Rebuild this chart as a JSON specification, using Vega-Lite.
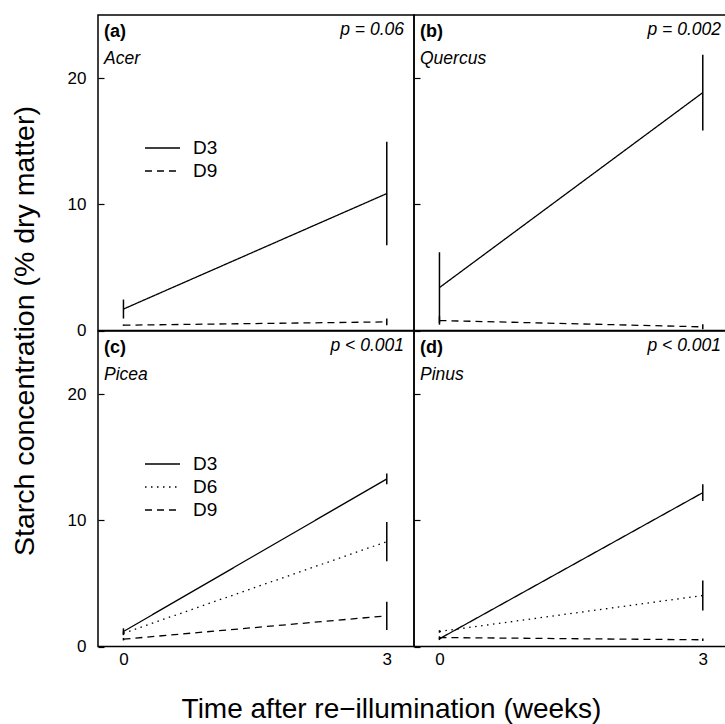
{
  "$schema": "https://vega.github.io/schema/vega-lite/v6.json",
  "padding": {"left": 9, "top": 14, "right": 0, "bottom": 0},
  "background": "white",
  "datasets": {
    "obs": [
      {"panel": "a", "series": "D3", "week": 0, "mean": 1.7, "se": 0.75},
      {"panel": "a", "series": "D3", "week": 3, "mean": 10.85, "se": 4.1},
      {"panel": "a", "series": "D9", "week": 0, "mean": 0.42, "se": 0.05},
      {"panel": "a", "series": "D9", "week": 3, "mean": 0.68, "se": 0.27},
      {"panel": "b", "series": "D3", "week": 0, "mean": 3.4, "se": 2.8},
      {"panel": "b", "series": "D3", "week": 3, "mean": 18.85, "se": 3.0},
      {"panel": "b", "series": "D9", "week": 0, "mean": 0.79, "se": 0.33},
      {"panel": "b", "series": "D9", "week": 3, "mean": 0.29, "se": 0.2},
      {"panel": "c", "series": "D3", "week": 0, "mean": 1.19, "se": 0.25},
      {"panel": "c", "series": "D3", "week": 3, "mean": 13.28, "se": 0.42},
      {"panel": "c", "series": "D6", "week": 0, "mean": 1.05, "se": 0.15},
      {"panel": "c", "series": "D6", "week": 3, "mean": 8.31, "se": 1.55},
      {"panel": "c", "series": "D9", "week": 0, "mean": 0.58, "se": 0.1},
      {"panel": "c", "series": "D9", "week": 3, "mean": 2.43, "se": 1.12},
      {"panel": "d", "series": "D3", "week": 0, "mean": 0.61, "se": 0.1},
      {"panel": "d", "series": "D3", "week": 3, "mean": 12.19, "se": 0.66},
      {"panel": "d", "series": "D6", "week": 0, "mean": 1.19, "se": 0.1},
      {"panel": "d", "series": "D6", "week": 3, "mean": 4.04, "se": 1.19},
      {"panel": "d", "series": "D9", "week": 0, "mean": 0.71, "se": 0.1},
      {"panel": "d", "series": "D9", "week": 3, "mean": 0.53, "se": 0.1}
    ],
    "ann": [
      {"panel": "a", "p": "p = 0.06"},
      {"panel": "b", "p": "p = 0.002"},
      {"panel": "c", "p": "p < 0.001"},
      {"panel": "d", "p": "p < 0.001"}
    ]
  },
  "columns": 2,
  "spacing": 0,
  "bounds": "flush",
  "resolve": {"scale": {"strokeDash": "independent"}, "legend": {"strokeDash": "independent"}},
  "concat": [
    {
      "width": 316, "height": 315.5,
      "title": {"text": "(a)", "subtitle": "Acer", "orient": "top", "anchor": "start", "frame": "group", "offset": -52.5, "dx": 6, "fontSize": 18, "fontWeight": "bold", "color": "black", "subtitleFontSize": 17.5, "subtitleFontStyle": "italic", "subtitleColor": "black", "subtitlePadding": 9},
      "layer": [
        {"data": {"name": "obs"}, "transform": [{"filter": "datum.panel === 'a'"}],
         "mark": {"type": "line", "color": "black", "strokeWidth": 1.3},
         "encoding": {
           "x": {"field": "week", "type": "quantitative", "title": null, "scale": {"domain": [-0.29, 3.31], "nice": false, "zero": false}, "axis": null},
           "y": {"field": "mean", "type": "quantitative", "scale": {"domain": [0, 25], "nice": false, "zero": false}, "axis": {"title": "Starch concentration (% dry matter)", "values": [0, 10, 20], "tickSize": -6, "tickColor": "black", "tickWidth": 1.2, "domain": false, "grid": false, "labelFontSize": 17, "labelColor": "black", "labelPadding": 18, "titleFontSize": 28.5, "titleFontWeight": "normal", "titleColor": "black", "titleX": -65, "titleY": 315.5, "titleAngle": 270, "titleAlign": "center", "titleBaseline": "alphabetic"}},
           "strokeDash": {"field": "series", "type": "nominal", "scale": {"domain": ["D3", "D9"], "range": [[1, 0], [7, 5]]}, "legend": {"orient": "none", "legendX": 53.5, "legendY": 122, "title": null, "symbolType": "M-1.75,0H1.75", "symbolSize": 400, "symbolStrokeWidth": 1.3, "symbolStrokeColor": "black", "labelFontSize": 19, "labelColor": "black", "labelOffset": 19.5, "rowPadding": 2, "padding": 0}}
         }},
        {"data": {"name": "obs"}, "transform": [{"filter": "datum.panel === 'a'"}],
         "mark": {"type": "errorbar", "ticks": false, "color": "black", "rule": {"strokeWidth": 1.5}},
         "encoding": {"x": {"field": "week", "type": "quantitative"}, "y": {"field": "mean", "type": "quantitative", "title": "Starch concentration (% dry matter)"}, "yError": {"field": "se"}}},
        {"data": {"name": "ann"}, "transform": [{"filter": "datum.panel === 'a'"}],
         "mark": {"type": "text", "align": "right", "baseline": "alphabetic", "fontStyle": "italic", "fontSize": 17.5, "color": "black", "dx": -10, "dy": 20},
         "encoding": {"x": {"value": "width"}, "y": {"value": 0}, "text": {"field": "p"}}}
      ]
    },
    {
      "width": 316, "height": 315.5,
      "title": {"text": "(b)", "subtitle": "Quercus", "orient": "top", "anchor": "start", "frame": "group", "offset": -52.5, "dx": 6, "fontSize": 18, "fontWeight": "bold", "color": "black", "subtitleFontSize": 17.5, "subtitleFontStyle": "italic", "subtitleColor": "black", "subtitlePadding": 9},
      "layer": [
        {"data": {"name": "obs"}, "transform": [{"filter": "datum.panel === 'b'"}],
         "mark": {"type": "line", "color": "black", "strokeWidth": 1.3},
         "encoding": {
           "x": {"field": "week", "type": "quantitative", "title": null, "scale": {"domain": [-0.29, 3.31], "nice": false, "zero": false}, "axis": null},
           "y": {"field": "mean", "type": "quantitative", "title": null, "scale": {"domain": [0, 25], "nice": false, "zero": false}, "axis": {"title": null, "values": [0, 10, 20], "tickSize": -6, "tickColor": "black", "tickWidth": 1.2, "domain": false, "grid": false, "labels": false}},
           "strokeDash": {"field": "series", "type": "nominal", "scale": {"domain": ["D3", "D9"], "range": [[1, 0], [7, 5]]}, "legend": null}
         }},
        {"data": {"name": "obs"}, "transform": [{"filter": "datum.panel === 'b'"}],
         "mark": {"type": "errorbar", "ticks": false, "color": "black", "rule": {"strokeWidth": 1.5}},
         "encoding": {"x": {"field": "week", "type": "quantitative"}, "y": {"field": "mean", "type": "quantitative", "title": null}, "yError": {"field": "se"}}},
        {"data": {"name": "ann"}, "transform": [{"filter": "datum.panel === 'b'"}],
         "mark": {"type": "text", "align": "right", "baseline": "alphabetic", "fontStyle": "italic", "fontSize": 17.5, "color": "black", "dx": -9, "dy": 20},
         "encoding": {"x": {"value": "width"}, "y": {"value": 0}, "text": {"field": "p"}}}
      ]
    },
    {
      "width": 316, "height": 315.5,
      "title": {"text": "(c)", "subtitle": "Picea", "orient": "top", "anchor": "start", "frame": "group", "offset": -52.5, "dx": 6, "fontSize": 18, "fontWeight": "bold", "color": "black", "subtitleFontSize": 17.5, "subtitleFontStyle": "italic", "subtitleColor": "black", "subtitlePadding": 9},
      "layer": [
        {"data": {"name": "obs"}, "transform": [{"filter": "datum.panel === 'c'"}],
         "mark": {"type": "line", "color": "black", "strokeWidth": 1.3},
         "encoding": {
           "x": {"field": "week", "type": "quantitative", "scale": {"domain": [-0.29, 3.31], "nice": false, "zero": false}, "axis": {"title": "Time after re−illumination (weeks)", "values": [0, 3], "format": "d", "ticks": false, "domain": false, "grid": false, "labelFontSize": 17, "labelColor": "black", "labelPadding": 5, "titleFontSize": 28, "titleFontWeight": "normal", "titleColor": "black", "titleX": 293, "titleY": 71, "titleAlign": "center", "titleBaseline": "alphabetic"}},
           "y": {"field": "mean", "type": "quantitative", "title": null, "scale": {"domain": [0, 25], "nice": false, "zero": false}, "axis": {"title": null, "values": [0, 10, 20], "tickSize": -6, "tickColor": "black", "tickWidth": 1.2, "domain": false, "grid": false, "labelFontSize": 17, "labelColor": "black", "labelPadding": 18}},
           "strokeDash": {"field": "series", "type": "nominal", "scale": {"domain": ["D3", "D6", "D9"], "range": [[1, 0], [1.5, 4.5], [7, 5]]}, "legend": {"orient": "none", "legendX": 53.5, "legendY": 122, "title": null, "symbolType": "M-1.75,0H1.75", "symbolSize": 400, "symbolStrokeWidth": 1.3, "symbolStrokeColor": "black", "labelFontSize": 19, "labelColor": "black", "labelOffset": 19.5, "rowPadding": 2, "padding": 0}}
         }},
        {"data": {"name": "obs"}, "transform": [{"filter": "datum.panel === 'c'"}],
         "mark": {"type": "errorbar", "ticks": false, "color": "black", "rule": {"strokeWidth": 1.5}},
         "encoding": {"x": {"field": "week", "type": "quantitative", "title": "Time after re−illumination (weeks)"}, "y": {"field": "mean", "type": "quantitative", "title": null}, "yError": {"field": "se"}}},
        {"data": {"name": "ann"}, "transform": [{"filter": "datum.panel === 'c'"}],
         "mark": {"type": "text", "align": "right", "baseline": "alphabetic", "fontStyle": "italic", "fontSize": 17.5, "color": "black", "dx": -10, "dy": 20},
         "encoding": {"x": {"value": "width"}, "y": {"value": 0}, "text": {"field": "p"}}}
      ]
    },
    {
      "width": 316, "height": 315.5,
      "title": {"text": "(d)", "subtitle": "Pinus", "orient": "top", "anchor": "start", "frame": "group", "offset": -52.5, "dx": 6, "fontSize": 18, "fontWeight": "bold", "color": "black", "subtitleFontSize": 17.5, "subtitleFontStyle": "italic", "subtitleColor": "black", "subtitlePadding": 9},
      "layer": [
        {"data": {"name": "obs"}, "transform": [{"filter": "datum.panel === 'd'"}],
         "mark": {"type": "line", "color": "black", "strokeWidth": 1.3},
         "encoding": {
           "x": {"field": "week", "type": "quantitative", "title": null, "scale": {"domain": [-0.29, 3.31], "nice": false, "zero": false}, "axis": {"title": null, "values": [0, 3], "format": "d", "ticks": false, "domain": false, "grid": false, "labelFontSize": 17, "labelColor": "black", "labelPadding": 5}},
           "y": {"field": "mean", "type": "quantitative", "title": null, "scale": {"domain": [0, 25], "nice": false, "zero": false}, "axis": {"title": null, "values": [0, 10, 20], "tickSize": -6, "tickColor": "black", "tickWidth": 1.2, "domain": false, "grid": false, "labels": false}},
           "strokeDash": {"field": "series", "type": "nominal", "scale": {"domain": ["D3", "D6", "D9"], "range": [[1, 0], [1.5, 4.5], [7, 5]]}, "legend": null}
         }},
        {"data": {"name": "obs"}, "transform": [{"filter": "datum.panel === 'd'"}],
         "mark": {"type": "errorbar", "ticks": false, "color": "black", "rule": {"strokeWidth": 1.5}},
         "encoding": {"x": {"field": "week", "type": "quantitative", "title": null}, "y": {"field": "mean", "type": "quantitative", "title": null}, "yError": {"field": "se"}}},
        {"data": {"name": "ann"}, "transform": [{"filter": "datum.panel === 'd'"}],
         "mark": {"type": "text", "align": "right", "baseline": "alphabetic", "fontStyle": "italic", "fontSize": 17.5, "color": "black", "dx": -9, "dy": 20},
         "encoding": {"x": {"value": "width"}, "y": {"value": 0}, "text": {"field": "p"}}}
      ]
    }
  ],
  "config": {
    "font": "Liberation Sans",
    "view": {"stroke": "black", "strokeWidth": 1.5},
    "axis": {"grid": false}
  }
}
